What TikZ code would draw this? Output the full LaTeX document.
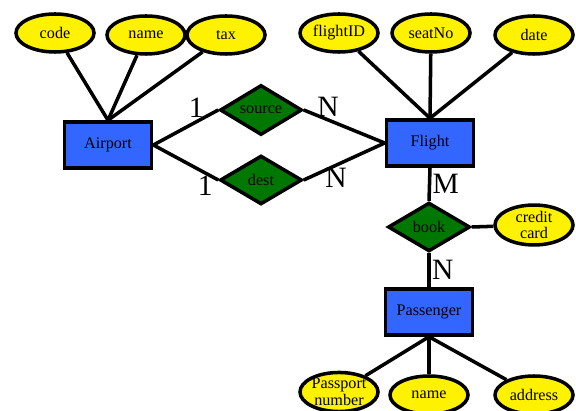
\documentclass[tikz,border=0pt]{standalone}
\usepackage{fontspec}
\setmainfont{Liberation Serif}
\usetikzlibrary{shapes.geometric}
\definecolor{entblue}{RGB}{51,102,255}
\definecolor{relgreen}{RGB}{0,119,0}

\begin{document}
\begin{tikzpicture}[x=0.025cm, y=-0.025cm, line width=2.5pt,
  entity/.style={draw, fill=entblue, minimum width=2.18cm, minimum height=1.15cm, inner sep=0pt, font=\fontsize{11.5}{12}\selectfont},
  attr/.style={draw, ellipse, fill=yellow, minimum width=1.95cm, minimum height=0.95cm, inner sep=0pt, align=center, font=\fontsize{11.5}{12}\selectfont},
  rel/.style={draw, diamond, fill=relgreen, minimum width=2.05cm, minimum height=1.22cm, inner sep=0pt, font=\fontsize{11.5}{12}\selectfont},
  card/.style={font=\fontsize{21}{24}\selectfont, inner sep=1pt}]
\useasboundingbox (0,0) rectangle (576,411);
% entities
\draw (108,145) node[entity] (airport) {Airport};
\draw (430,143) node[entity] (flight) {Flight};
\draw (429,312) node[entity] (passenger) {Passenger};
%
\draw (261,110) node[rel] (source) {source};
\draw (261,180) node[rel] (dest) {dest};
\draw (429,227) node[rel] (book) {book};
%
\draw (55,33) node[attr] (code) {code};
\draw (146,35) node[attr] (aname) {name};
\draw (226,35) node[attr] (tax) {tax};
\path[draw] (code) -- (airport.north);
\path[draw] (aname) -- (airport.north);
\path[draw] (tax) -- (airport.north);
%
\draw (339,33) node[attr] (flightID) {flightID};
\draw (431,33) node[attr] (seatNo) {seatNo};
\draw (534,35) node[attr] (date) {date};
\path[draw] (flightID) -- (flight.north);
\path[draw] (seatNo) -- (flight.north);
\path[draw] (date) -- (flight.north);
%
\draw (534,225) node[attr] (credit) {credit\\card};
\path[draw] (book.east) -- (credit);
%
\draw (339,392) node[attr] (passport) {Passport\\number};
\draw (429,395) node[attr] (pname) {name};
\draw (534,395) node[attr] (address) {address};
\path[draw] (passenger.south) -- (passport);
\path[draw] (passenger.south) -- (pname);
\path[draw] (passenger.south) -- (address);
%
\path[draw] (airport.east) -- node[card, pos=.78, above left=-2pt] (one1) {1} (source.west);
\path[draw] (airport.east) -- node[card, pos=.8, below] (one2) {1} (dest.west);
\path[draw] (source.east) -- node[card, pos=.3, above] (n1) {N} (flight.west);
\path[draw] (dest.east) -- node[card, pos=.4, below] (n2) {N} (flight.west);
\path[draw] (flight.south) -- node[card, right] (m1) {M} (book.north);
\path[draw] (book.south) -- node[card, right] (n3) {N} (passenger.north);
\end{tikzpicture}
\end{document}
